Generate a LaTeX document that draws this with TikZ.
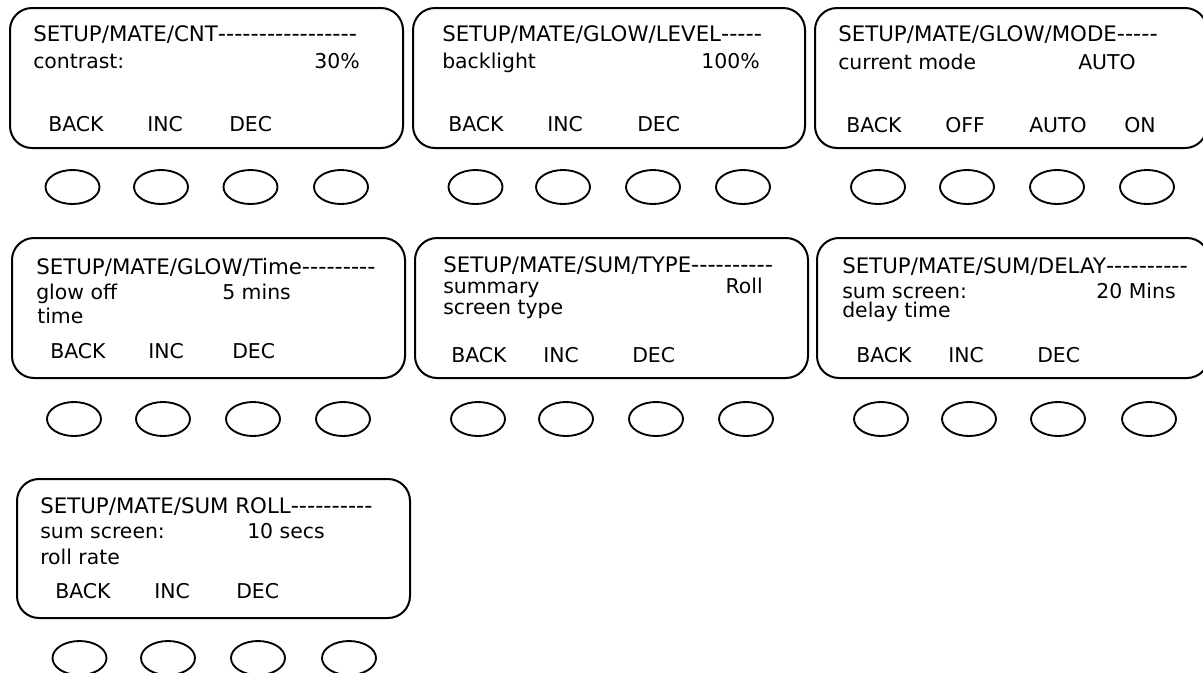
\documentclass[tikz,border=0pt]{standalone}
\usepackage{fontspec}
\setmainfont{DejaVu Sans}[Ligatures=TeXOff]
\usetikzlibrary{shapes.geometric}
\newcommand{\dsh}[1]{{\fontsize{17}{18}\selectfont #1}}
\tikzset{
  panel/.style={draw, line width=1.5pt, rounded corners=22*0.75pt},
  btn/.style={draw, line width=1.4pt, ellipse, minimum width=54*0.75pt, minimum height=34*0.75pt, inner sep=0pt},
  txt/.style={anchor=base west, inner sep=0pt, font=\fontsize{15.3}{17}\selectfont},
  hdr/.style={anchor=base west, inner sep=0pt, font=\fontsize{16}{18}\selectfont},
  val/.style={anchor=base east, inner sep=0pt, font=\fontsize{15.3}{17}\selectfont},
}
\begin{document}
\begin{tikzpicture}[x=0.75pt,y=-0.75pt]
\useasboundingbox (0,0) rectangle (1203,672);
\begin{scope}
\clip (0,0) rectangle (1203,672);
% ---------- Panel 1
\draw[panel] (10,8) rectangle (403,148);
\node[hdr] (h1) at (33,41) {SETUP/MATE/CNT\dsh{-----------------}};
\node[txt] (a1) at (33,68) {contrast:};
\node[val] (v1) at (360,68) {30\%};
\node[txt] (b1a) at (48,131) {BACK};
\node[txt] (b1b) at (147,131) {INC};
\node[txt] (b1c) at (229,131) {DEC};
\node[btn] (e1a) at (72.5,187) {};
\node[btn] (e1b) at (161,187) {};
\node[btn] (e1c) at (250.5,187) {};
\node[btn] (e1d) at (341,187) {};
% ---------- Panel 2
\draw[panel] (413,8) rectangle (805,148);
\node[hdr] (h2) at (442,41) {SETUP/MATE/GLOW/LEVEL\dsh{-----}};
\node[txt] (a2) at (442,68) {backlight};
\node[val] (v2) at (760,68) {100\%};
\node[txt] (b2a) at (448,131) {BACK};
\node[txt] (b2b) at (547,131) {INC};
\node[txt] (b2c) at (637,131) {DEC};
\node[btn] (e2a) at (475.5,187) {};
\node[btn] (e2b) at (563,187) {};
\node[btn] (e2c) at (653,187) {};
\node[btn] (e2d) at (743,187) {};
% ---------- Panel 3
\draw[panel] (815,8) rectangle (1207,148);
\node[hdr] (h3) at (838,41) {SETUP/MATE/GLOW/MODE\dsh{-----}};
\node[txt] (a3) at (838,69) {current mode};
\node[txt] (v3) at (1078,69) {AUTO};
\node[txt] (b3a) at (846,132) {BACK};
\node[txt] (b3b) at (945,132) {OFF};
\node[txt] (b3c) at (1029,132) {AUTO};
\node[txt] (b3d) at (1124,132) {ON};
\node[btn] (e3a) at (878,187) {};
\node[btn] (e3b) at (967,187) {};
\node[btn] (e3c) at (1057,187) {};
\node[btn] (e3d) at (1147,187) {};
% ---------- Panel 4
\draw[panel] (12,238) rectangle (405,378);
\node[hdr] (h4) at (36,274) {SETUP/MATE/GLOW/Time\dsh{---------}};
\node[txt] (a4) at (36,299) {glow off};
\node[txt] (v4) at (222,299) {5 mins};
\node[txt] (c4) at (37,323) {time};
\node[txt] (b4a) at (50,358) {BACK};
\node[txt] (b4b) at (148,358) {INC};
\node[txt] (b4c) at (232,358) {DEC};
\node[btn] (e4a) at (74,419) {};
\node[btn] (e4b) at (163,419) {};
\node[btn] (e4c) at (253,419) {};
\node[btn] (e4d) at (343,419) {};
% ---------- Panel 5
\draw[panel] (415,238) rectangle (808,378);
\node[hdr] (h5) at (443,272) {SETUP/MATE/SUM/TYPE\dsh{----------}};
\node[txt] (a5) at (443,293) {summary};
\node[val] (v5) at (763,293) {Roll};
\node[txt] (c5) at (443,314) {screen type};
\node[txt] (b5a) at (451,362) {BACK};
\node[txt] (b5b) at (543,362) {INC};
\node[txt] (b5c) at (632,362) {DEC};
\node[btn] (e5a) at (478,419) {};
\node[btn] (e5b) at (566,419) {};
\node[btn] (e5c) at (656,419) {};
\node[btn] (e5d) at (746,419) {};
% ---------- Panel 6
\draw[panel] (817,238) rectangle (1209,378);
\node[hdr] (h6) at (842,273) {SETUP/MATE/SUM/DELAY\dsh{----------}};
\node[txt] (a6) at (842,298) {sum screen:};
\node[val] (v6) at (1176,298) {20 Mins};
\node[txt] (c6) at (842,317) {delay time};
\node[txt] (b6a) at (856,362) {BACK};
\node[txt] (b6b) at (948,362) {INC};
\node[txt] (b6c) at (1037,362) {DEC};
\node[btn] (e6a) at (881,419) {};
\node[btn] (e6b) at (969,419) {};
\node[btn] (e6c) at (1058,419) {};
\node[btn] (e6d) at (1149,419) {};
% ---------- Panel 7
\draw[panel] (17,479) rectangle (410,618);
\node[hdr] (h7) at (40,513) {SETUP/MATE/SUM ROLL\dsh{----------}};
\node[txt] (a7) at (40,538) {sum screen:};
\node[txt] (v7) at (247,538) {10 secs};
\node[txt] (c7) at (40,564) {roll rate};
\node[txt] (b7a) at (55,598) {BACK};
\node[txt] (b7b) at (154,598) {INC};
\node[txt] (b7c) at (236,598) {DEC};
\node[btn] (e7a) at (79.5,658) {};
\node[btn] (e7b) at (168,658) {};
\node[btn] (e7c) at (258,658) {};
\node[btn] (e7d) at (349,658) {};
\end{scope}
\end{tikzpicture}
\end{document}
